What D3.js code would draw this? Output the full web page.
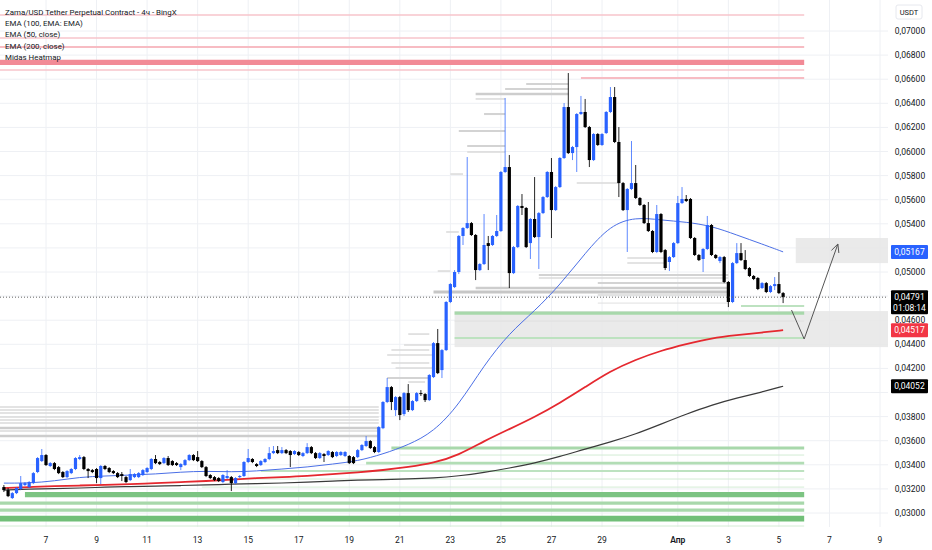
<!DOCTYPE html>
<html>
<head>
<meta charset="utf-8">
<script src="https://cdn.jsdelivr.net/npm/d3@7"></script>
<style>
  body { margin: 0; background: #fff; }
  text { font-family: Roboto, "Noto Sans", sans-serif; }
</style>
</head>
<body>
<div id="chart"></div>
<script>
// 4h candles, first one at 5 Mar 08:00
const opens = [
  0.03215,0.03190,0.03124,0.03165,0.03199,0.03232,0.03215,0.03248,0.03340,0.03431,
  0.03481,0.03390,0.03414,0.03381,0.03340,0.03298,0.03331,0.03365,0.03448,0.03464,
  0.03365,0.03356,0.03365,0.03290,0.03390,0.03373,0.03348,0.03331,0.03323,0.03298,
  0.03273,0.03298,0.03298,0.03315,0.03340,0.03365,0.03448,0.03423,0.03414,0.03456,
  0.03431,0.03414,0.03381,0.03398,0.03439,0.03481,0.03464,0.03431,0.03381,0.03315,
  0.03298,0.03290,0.03257,0.03290,0.03298,0.03248,0.03298,0.03307,0.03423,0.03448,
  0.03406,0.03398,0.03423,0.03448,0.03497,0.03522,0.03497,0.03522,0.03514,0.03489,
  0.03506,0.03473,0.03497,0.03547,0.03497,0.03456,0.03489,0.03481,0.03506,0.03473,
  0.03481,0.03473,0.03473,0.03464,0.03464,0.03522,0.03556,0.03597,0.03547,0.03506,
  0.03704,0.03921,0.04045,0.03854,0.03962,0.03821,0.03995,0.03854,0.03929,0.03995,
  0.03987,0.03937,0.04128,0.04410,0.04186,0.04352,0.04751,0.04875,0.05000,0.05299,
  0.05365,0.05406,0.05307,0.05016,0.05066,0.05240,0.05224,0.05299,0.05340,0.05830,
  0.05871,0.04991,0.05207,0.05548,0.05531,0.05240,0.05440,0.05290,0.05489,0.05622,
  0.05830,0.05514,0.05705,0.05946,0.06369,0.05987,0.06037,0.06311,0.06328,0.06203,
  0.05929,0.06145,0.06054,0.06153,0.06328,0.06452,0.06079,0.05738,0.05514,0.05689,
  0.05738,0.05614,0.05556,0.05406,0.05340,0.05166,0.05481,0.05182,0.05083,0.05124,
  0.05240,0.05572,0.05606,0.05606,0.05282,0.05141,0.05108,0.05191,0.05390,0.05141,
  0.05091,0.05124,0.04917,0.04751,0.05074,0.05157,0.05099,0.05033,0.04967,0.04950,
  0.04867,0.04908,0.04834,0.04883,0.04900,0.04825
];
const highs = [
  0.03232,0.03207,0.03174,0.03215,0.03307,0.03257,0.03265,0.03340,0.03464,0.03531,
  0.03489,0.03423,0.03423,0.03390,0.03348,0.03356,0.03373,0.03464,0.03481,0.03473,
  0.03373,0.03365,0.03373,0.03398,0.03398,0.03381,0.03356,0.03340,0.03340,0.03307,
  0.03365,0.03331,0.03340,0.03365,0.03381,0.03456,0.03481,0.03431,0.03464,0.03473,
  0.03439,0.03423,0.03414,0.03448,0.03489,0.03489,0.03514,0.03439,0.03390,0.03323,
  0.03307,0.03298,0.03323,0.03356,0.03307,0.03298,0.03315,0.03431,0.03531,0.03456,
  0.03414,0.03439,0.03456,0.03547,0.03556,0.03556,0.03547,0.03531,0.03522,0.03522,
  0.03514,0.03506,0.03580,0.03556,0.03506,0.03506,0.03497,0.03522,0.03514,0.03514,
  0.03514,0.03514,0.03481,0.03473,0.03531,0.03572,0.03639,0.03605,0.03556,0.03721,
  0.03929,0.04120,0.04054,0.03971,0.03971,0.04004,0.04070,0.03937,0.04004,0.04020,
  0.03995,0.04153,0.04419,0.04527,0.04361,0.04759,0.04908,0.05016,0.05307,0.05373,
  0.05954,0.05415,0.05315,0.05074,0.05481,0.05299,0.05307,0.05473,0.05838,0.06444,
  0.05971,0.05216,0.05556,0.05647,0.05539,0.05448,0.05788,0.05498,0.05631,0.05838,
  0.05946,0.05714,0.05954,0.06402,0.06651,0.06046,0.06319,0.06461,0.06436,0.06212,
  0.06153,0.06153,0.06153,0.06336,0.06535,0.06535,0.06203,0.05747,0.05697,0.06087,
  0.05888,0.05622,0.05564,0.05581,0.05348,0.05556,0.05489,0.05191,0.05133,0.05249,
  0.05631,0.05705,0.05639,0.05614,0.05290,0.05149,0.05199,0.05465,0.05398,0.05149,
  0.05133,0.05133,0.04925,0.05083,0.05240,0.05240,0.05182,0.05041,0.04975,0.04958,
  0.04917,0.04917,0.04892,0.04958,0.05000,0.04834
];
const lows = [
  0.03174,0.03132,0.03116,0.03157,0.03190,0.03224,0.03207,0.03240,0.03331,0.03423,
  0.03390,0.03381,0.03356,0.03323,0.03290,0.03290,0.03323,0.03356,0.03439,0.03356,
  0.03290,0.03331,0.03248,0.03240,0.03356,0.03331,0.03323,0.03290,0.03265,0.03248,
  0.03265,0.03290,0.03290,0.03307,0.03331,0.03356,0.03406,0.03398,0.03406,0.03390,
  0.03390,0.03390,0.03356,0.03390,0.03431,0.03431,0.03423,0.03373,0.03298,0.03282,
  0.03265,0.03257,0.03248,0.03282,0.03182,0.03240,0.03290,0.03298,0.03414,0.03414,
  0.03381,0.03390,0.03414,0.03439,0.03489,0.03489,0.03489,0.03489,0.03381,0.03481,
  0.03473,0.03464,0.03489,0.03489,0.03448,0.03448,0.03423,0.03473,0.03456,0.03464,
  0.03473,0.03464,0.03406,0.03406,0.03456,0.03514,0.03547,0.03531,0.03497,0.03497,
  0.03696,0.03912,0.03854,0.03805,0.03771,0.03805,0.03838,0.03846,0.03921,0.03971,
  0.03921,0.03929,0.04120,0.04153,0.04120,0.04344,0.04742,0.04867,0.04983,0.05224,
  0.05357,0.05299,0.04933,0.05008,0.05058,0.05016,0.05216,0.05290,0.05332,0.05821,
  0.04867,0.04983,0.05199,0.05473,0.05199,0.05108,0.05282,0.05025,0.05481,0.05614,
  0.05282,0.05506,0.05697,0.05938,0.05979,0.05929,0.05830,0.06303,0.06195,0.05871,
  0.05921,0.06046,0.06046,0.06145,0.06319,0.06070,0.05622,0.05506,0.05166,0.05680,
  0.05606,0.05548,0.05398,0.05332,0.05157,0.05157,0.05157,0.05016,0.05008,0.05116,
  0.05232,0.05564,0.05581,0.05274,0.05133,0.05091,0.05000,0.05182,0.05133,0.05108,
  0.05074,0.04908,0.04709,0.04742,0.05066,0.05091,0.05016,0.04958,0.04933,0.04850,
  0.04859,0.04825,0.04825,0.04850,0.04817,0.04742
];
const closes = [
  0.03190,0.03140,0.03165,0.03207,0.03248,0.03248,0.03257,0.03331,0.03456,0.03481,
  0.03398,0.03414,0.03365,0.03331,0.03298,0.03348,0.03365,0.03456,0.03464,0.03365,
  0.03348,0.03340,0.03290,0.03390,0.03365,0.03340,0.03331,0.03298,0.03307,0.03257,
  0.03323,0.03323,0.03331,0.03356,0.03373,0.03448,0.03414,0.03406,0.03456,0.03398,
  0.03398,0.03398,0.03406,0.03439,0.03481,0.03439,0.03431,0.03381,0.03307,0.03290,
  0.03273,0.03265,0.03315,0.03307,0.03248,0.03290,0.03307,0.03423,0.03456,0.03423,
  0.03390,0.03431,0.03448,0.03497,0.03514,0.03497,0.03522,0.03497,0.03481,0.03514,
  0.03481,0.03497,0.03547,0.03497,0.03456,0.03497,0.03473,0.03514,0.03464,0.03506,
  0.03506,0.03506,0.03414,0.03414,0.03522,0.03564,0.03597,0.03539,0.03506,0.03713,
  0.03921,0.04045,0.03921,0.03962,0.03813,0.03995,0.03854,0.03929,0.03995,0.03987,
  0.03937,0.04145,0.04410,0.04161,0.04352,0.04751,0.04900,0.05000,0.05299,0.05365,
  0.05406,0.05307,0.05016,0.05066,0.05224,0.05216,0.05299,0.05340,0.05830,0.05871,
  0.04991,0.05207,0.05548,0.05531,0.05207,0.05440,0.05290,0.05489,0.05622,0.05830,
  0.05514,0.05705,0.05946,0.06369,0.05987,0.06037,0.06311,0.06328,0.06203,0.05929,
  0.06145,0.06054,0.06145,0.06328,0.06452,0.06079,0.05738,0.05514,0.05689,0.05738,
  0.05614,0.05556,0.05406,0.05340,0.05166,0.05481,0.05166,0.05033,0.05124,0.05240,
  0.05572,0.05606,0.05589,0.05282,0.05141,0.05099,0.05191,0.05390,0.05141,0.05116,
  0.05124,0.04917,0.04751,0.05074,0.05157,0.05099,0.05025,0.04967,0.04942,0.04859,
  0.04908,0.04834,0.04883,0.04900,0.04825,0.04791
];

// EMA readings, sampled once a day (candle index)
const emaIdx = [0,6,12,18,24,30,36,42,48,54,60,66,72,78,84,90,96,102,108,114,120,126,132,138,144,150,156,162,168,174,180,185];
const ema50 = [0.03248,0.03248,0.03265,0.03298,0.03307,0.03315,0.03323,0.03340,0.03348,0.03340,0.03348,0.03365,0.03381,0.03406,0.03431,0.03489,
  0.03564,0.03672,0.03896,0.04228,0.04493,0.04676,0.04892,0.05157,0.05390,0.05456,0.05431,0.05415,0.05382,0.05307,0.05232,0.05167];
const ema100 = [0.03207,0.03215,0.03224,0.03228,0.03232,0.03240,0.03248,0.03257,0.03265,0.03277,0.03290,0.03298,0.03307,0.03323,0.03336,0.03356,
  0.03381,0.03414,0.03481,0.03597,0.03696,0.03796,0.03913,0.04045,0.04178,0.04273,0.04348,0.04402,0.04452,0.04477,0.04498,0.04517];
const ema200 = [0.03190,0.03199,0.03203,0.03207,0.03215,0.03219,0.03224,0.03228,0.03232,0.03240,0.03244,0.03248,0.03257,0.03265,0.03273,0.03277,
  0.03282,0.03290,0.03307,0.03336,0.03373,0.03414,0.03468,0.03531,0.03589,0.03655,0.03738,0.03821,0.03896,0.03954,0.04004,0.04052];

// Midas heatmap levels: [price, from candle, to candle, weight]
const pinkLevels = [
  [0.07133, -2, 190, 1.5], [0.06942, -2, 190, 1.5], [0.06867, -2, 190, 2],
  [0.06739, -2, 190, 5], [0.06676, -2, 190, 1.5], [0.06610, 137, 190, 2]
];
const greenLevels = [
  [0.04718, 175, 190, 2], [0.04659, 107, 190, 3], [0.04452, 107, 190, 2],
  [0.03539, 92, 190, 3], [0.03481, 94, 190, 1], [0.03414, 86, 190, 2.5],
  [0.03348, 61, 190, 2], [0.03282, 54, 190, 1], [0.03215, 47, 190, 1],
  [0.03153, 5, 190, 5], [0.03082, -2, 190, 3], [0.03024, -2, 190, 3],
  [0.02954, -2, 190, 5.5], [0.02892, -2, 190, 1]
];
const grayLevels = [
  [0.06560, 124, 134, 2], [0.06519, 119, 134, 2], [0.06477, 112, 134, 2.5],
  [0.06436, 112, 119, 1.5], [0.06311, 114, 119, 2], [0.06170, 108, 119, 2],
  [0.06046, 110, 119, 2], [0.05996, 110, 119, 1.5], [0.05813, 106, 109, 1.5],
  [0.05738, 136, 146, 1.5], [0.05332, 105, 108, 1.5], [0.05116, 148, 157, 1.5],
  [0.05074, 148, 157, 1.5], [0.05008, 103, 106, 1.5], [0.04975, 127, 172, 2],
  [0.04950, 127, 172, 1.5], [0.04908, 141, 172, 2], [0.04867, 112, 172, 2.5],
  [0.04834, 102, 172, 3], [0.04809, 141, 172, 1.5], [0.04742, 141, 172, 1],
  [0.04593, 107, 190, 1], [0.04485, 96, 101, 1.5], [0.04394, 95, 103, 1.5],
  [0.04352, 92, 101, 1.5], [0.04311, 91, 102, 1.5], [0.04244, 92, 101, 1.5],
  [0.04203, 93, 102, 1.5], [0.04120, 91, 101, 2], [0.04087, 96, 100, 1.5],
  [0.03879, -2, 89, 1.5], [0.03854, -2, 89, 1.5], [0.03829, -2, 89, 1.5],
  [0.03796, -2, 89, 1.5], [0.03771, -2, 89, 1.5], [0.03746, -2, 89, 1.5],
  [0.03705, -2, 89, 2.5], [0.03680, -2, 89, 1.5], [0.03639, -2, 89, 2.5]
];
// zones: [top, bottom, from candle]
const zones = [[0.05282, 0.05074, 188], [0.04676, 0.04377, 107]];
// hand drawn arrow: [candle, price]
const arrowPts = [[187, 0.04684], [190, 0.04444], [198, 0.05232]];

const xTickDates = ["2026-03-07","2026-03-09","2026-03-11","2026-03-13","2026-03-15","2026-03-17","2026-03-19","2026-03-21",
  "2026-03-23","2026-03-25","2026-03-27","2026-03-29","2026-04-01","2026-04-03","2026-04-05","2026-04-07","2026-04-09"];
const xTickLabels = ["7","9","11","13","15","17","19","21","23","25","27","29","Апр","3","5","7","9"];
const legendLines = ["Zama/USD Tether Perpetual Contract - 4ч - BingX","EMA (100, EMA: EMA)","EMA (50, close)","EMA (200, close)","Midas Heatmap"];
const countdown = "01:08:14";

const FW = 932, FH = 550;
const PW = 888, PH = 527;
const UP = "#2962ff", DOWN = "#000000";

const svg = d3.select("#chart").append("svg").attr("width", FW).attr("height", FH);

const t0 = Date.UTC(2026, 2, 5, 8);
const STEP = 4 * 3600 * 1000;
const tOf = i => new Date(t0 + i * STEP);

const x = d3.scaleUtc()
  .domain([new Date(Date.UTC(2026, 2, 7)), new Date(Date.UTC(2026, 3, 9))])
  .range([46, 880]);
const y = d3.scaleLinear().domain([0.03, 0.07]).range([513, 31]);
const ticksY = y.ticks(20);
const fmt = d3.formatLocale({ decimal: ",", thousands: " ", grouping: [3], currency: ["", ""] }).format(".5f");
const tickDates = xTickDates.map(d => new Date(d + "T00:00:00Z"));

svg.append("defs").append("clipPath").attr("id", "plotclip")
  .append("rect").attr("x", 0).attr("y", 0).attr("width", PW).attr("height", PH);

// grid
const grid = svg.append("g");
grid.selectAll(".gv").data(tickDates).join("line")
  .attr("x1", d => x(d)).attr("x2", d => x(d)).attr("y1", 0).attr("y2", PH)
  .attr("stroke", "#eef0f4").attr("stroke-width", 1);
grid.selectAll(".gh").data(ticksY).join("line")
  .attr("x1", 0).attr("x2", PW).attr("y1", d => y(d)).attr("y2", d => y(d))
  .attr("stroke", "#eef0f4").attr("stroke-width", 1);

const plot = svg.append("g").attr("clip-path", "url(#plotclip)");

// zones
plot.append("g").selectAll("rect").data(zones).join("rect")
  .attr("x", d => x(tOf(d[2]))).attr("width", d => PW - x(tOf(d[2])))
  .attr("y", d => y(d[0])).attr("height", d => y(d[1]) - y(d[0]))
  .attr("fill", "#e6e6e6").attr("opacity", 0.85);

const lw = d3.scaleLinear().domain([1, 5]).range([1, 5.2]);
function drawLevels(data, colors) {
  const col = d3.scaleLinear().domain([1, 5]).range(colors);
  plot.append("g").selectAll("line").data(data).join("line")
    .attr("x1", d => x(tOf(d[1]))).attr("x2", d => x(tOf(d[2])))
    .attr("y1", d => y(d[0])).attr("y2", d => y(d[0]))
    .attr("stroke", d => col(d[3])).attr("stroke-width", d => lw(d[3]));
}
drawLevels(grayLevels, ["#e0e0e0", "#acacac"]);
drawLevels(greenLevels, ["#d3ecd4", "#7cc482"]);
drawLevels(pinkLevels, ["#f8ccd2", "#f28a96"]);

// EMAs
function emaLine(vals, color, w) {
  plot.append("path")
    .datum(vals)
    .attr("d", d3.line().x((d, k) => x(tOf(emaIdx[k]))).y(d => y(d)).curve(d3.curveBasis))
    .attr("fill", "none").attr("stroke", color).attr("stroke-width", w);
}
emaLine(ema200, "#3a3a3a", 1.2);
emaLine(ema100, "#e5282f", 1.8);
emaLine(ema50, "#4b6fe6", 1);

// candles
const cand = plot.append("g").selectAll("g").data(closes).join("g");
cand.append("line")
  .attr("x1", (d, i) => x(tOf(i))).attr("x2", (d, i) => x(tOf(i)))
  .attr("y1", (d, i) => y(highs[i])).attr("y2", (d, i) => y(lows[i]))
  .attr("stroke", (d, i) => d >= opens[i] ? UP : DOWN).attr("stroke-width", 1)
  .attr("opacity", (d, i) => d >= opens[i] ? 0.75 : 0.85);
cand.append("rect")
  .attr("x", (d, i) => x(tOf(i)) - 1.6).attr("width", 3.2)
  .attr("y", (d, i) => y(Math.max(d, opens[i])))
  .attr("height", (d, i) => Math.max(1, Math.abs(y(d) - y(opens[i]))))
  .attr("fill", (d, i) => d >= opens[i] ? UP : DOWN);

// last price line
const last = closes[closes.length - 1];
svg.append("line").attr("x1", 0).attr("x2", PW).attr("y1", y(last)).attr("y2", y(last))
  .attr("stroke", "#666").attr("stroke-width", 1).attr("stroke-dasharray", "1,2");

// arrow
const ap = arrowPts.map(p => [x(tOf(p[0])), y(p[1])]);
plot.append("path").attr("d", d3.line()(ap)).attr("fill", "none").attr("stroke", "#555").attr("stroke-width", 1);
const [ax, ay] = ap[ap.length - 1], [bx, by] = ap[ap.length - 2];
const ang = Math.atan2(ay - by, ax - bx);
const head = [-0.45, 0.45].map(a => [ax - 9 * Math.cos(ang + a), ay - 9 * Math.sin(ang + a)]);
plot.append("path").attr("d", d3.line()([head[0], [ax, ay], head[1]]))
  .attr("fill", "none").attr("stroke", "#555").attr("stroke-width", 1);

// legend
svg.append("g").selectAll("text").data(legendLines).join("text")
  .attr("x", 5).attr("y", (d, i) => 14.5 + i * 11.4)
  .attr("font-size", 7.9).attr("fill", "#131722").text(d => d);

// x axis labels
svg.append("g").selectAll("text").data(tickDates).join("text")
  .attr("x", d => x(d)).attr("y", 543).attr("text-anchor", "middle")
  .attr("font-size", 8.5).attr("fill", "#131722")
  .attr("font-weight", (d, i) => xTickLabels[i] === "Апр" ? 600 : 400)
  .text((d, i) => xTickLabels[i]);

// price markers
const markers = [
  { v: ema50[ema50.length - 1], c: "#2962ff" },
  { v: ema100[ema100.length - 1], c: "#f23645" },
  { v: ema200[ema200.length - 1], c: "#000" },
  { v: last, c: "#000", sub: countdown }
];

// y axis labels (those hidden under a marker box are left out)
const freeTicks = ticksY.filter(t => markers.every(m => {
  const dy = y(t) - y(m.v);
  return m.sub ? (dy < -9 || dy > 21) : Math.abs(dy) > 9;
}));
svg.append("g").selectAll("text").data(freeTicks).join("text")
  .attr("x", 910).attr("y", d => y(d) + 3).attr("text-anchor", "middle")
  .attr("font-size", 8.5).attr("fill", "#131722").text(d => fmt(d));

svg.append("rect").attr("x", 896).attr("y", 5).attr("width", 26).attr("height", 14)
  .attr("fill", "#fff").attr("stroke", "#e6e8ee").attr("rx", 2);
svg.append("text").attr("x", 909).attr("y", 15).attr("text-anchor", "middle")
  .attr("font-size", 7.5).attr("fill", "#131722").text("USDT");

const mk = svg.append("g").selectAll("g").data(markers).join("g");
mk.append("rect").attr("x", 891).attr("width", 37)
  .attr("y", d => y(d.v) - 7).attr("height", d => d.sub ? 24 : 14)
  .attr("fill", d => d.c).attr("rx", 1);
mk.append("text").attr("x", 909.5).attr("y", d => y(d.v) + 3).attr("text-anchor", "middle")
  .attr("font-size", 8.5).attr("fill", "#fff").text(d => fmt(d.v));
mk.filter(d => d.sub).append("text").attr("x", 909.5).attr("y", d => y(d.v) + 14).attr("text-anchor", "middle")
  .attr("font-size", 8.5).attr("fill", "#fff").text(d => d.sub);
</script>
</body>
</html>
